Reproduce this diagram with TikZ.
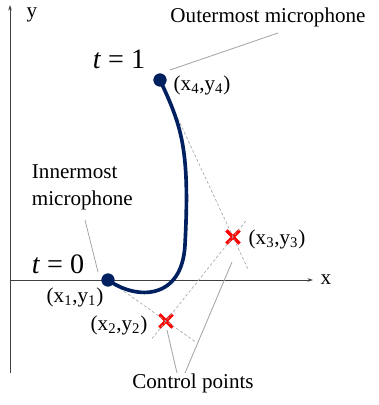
\documentclass[tikz,border=0pt]{standalone}
\usepackage{fontspec}
\setmainfont{Liberation Serif}
\usepackage{tikz}
\usetikzlibrary{calc,shapes.misc,arrows.meta}

\definecolor{navy}{RGB}{0,32,96}
\definecolor{leadgray}{RGB}{165,165,165}

\tikzset{
    mic/.style={draw=navy, circle, fill=navy, inner sep=0pt, minimum size=9pt},
    ctrl/.style={cross out, draw=red, line width=2.4pt, inner sep=0pt, minimum size=7pt},
    lead/.style={leadgray, line width=0.6pt},
    tangent/.style={leadgray, line width=0.45pt, dash pattern=on 2pt off 1.5pt},
    lbl/.style={font=\fontsize{15}{19}\selectfont},
    tlbl/.style={font=\fontsize{20}{23}\selectfont}
}

\begin{document}
\begin{tikzpicture}[scale=1.0]

    \useasboundingbox (-0.25,-3.125) rectangle (9.225,7.0);

    % Axes
    \coordinate (O) at (0, 0);
    \coordinate (Xend) at (7.575, 0);
    \coordinate (Ytop) at (0, 6.875);
    \coordinate (Ybot) at (0, -2.325);
    \draw[black!75, line width=0.5pt, -{Stealth[length=4pt, width=2.5pt]}] (O) -- (Xend);
    \draw[black!75, line width=0.5pt, -{Stealth[length=4pt, width=2.5pt]}] (Ybot) -- (Ytop);
    \node[lbl] (xlab) at (7.9, 0) {x};
    \node[lbl, inner sep=0pt] (ylab) at (0.55, 6.62) {y};

    % Control points (red crosses)
    \node[ctrl] (P2) at (3.9, -1.025) {};
    \node[lbl] at (2.725, -1.125) {(x\textsubscript{2},y\textsubscript{2})}; % left of cross

    \node[ctrl] (P3) at (5.575, 1.075) {};
    \node[lbl] at (6.675, 1.025) {(x\textsubscript{3},y\textsubscript{3})}; % right of cross

    % Microphone end points
    \coordinate (P1) at (2.45, 0);
    \coordinate (P4) at (3.75, 5.0);

    % Extended tangent lines (dashed)
    \coordinate (T12) at ($(P1)!1.5!(P2)$);
    \coordinate (T23a) at ($(P2)!-0.21!(P3)$);
    \coordinate (T23b) at ($(P2)!1.21!(P3)$);
    \coordinate (T43a) at ($(P4)!0.247!(P3)$);
    \coordinate (T43b) at ($(P4)!1.205!(P3)$);
    \draw[tangent] (P1) -- (T12);
    \draw[tangent] (T23a) -- (T23b);
    \draw[tangent] (T43a) -- (T43b);

    % Curve of the array (hook at the bottom, then nearly straight up)
    \coordinate (S) at (4.375, 0.875);
    \draw[navy, line width=2.6pt] (P1) .. controls (3.175, -0.5125) and (4.3, -0.5) .. (S)
        .. controls (4.5, 3.25) and (4.3, 3.825) .. (P4);

    \node[mic] (M1) at (P1) {};
    \node[lbl] at (1.625, -0.425) {(x\textsubscript{1},y\textsubscript{1})}; % below left
    \node[tlbl] (t0) at (1.2, 0.39) {\textit{t} = 0};

    \node[mic] (M4) at (P4) {};
    \node[lbl] at (4.8, 4.875) {(x\textsubscript{4},y\textsubscript{4})}; % right of dot
    \node[tlbl] (t1) at (2.725, 5.52) {\textit{t} = 1};

    % Callouts with leader lines
    \node[lbl] (outer) at (6.45, 6.575) {Outermost microphone};
    \coordinate (outerA) at (4.0, 5.25);
    \coordinate (outerB) at (6.7, 6.175);
    \draw[lead] (outerA) -- (outerB);

    \node[lbl, anchor=west, align=left] (inner) at (0.425, 2.325) {Innermost\\microphone};
    \coordinate (innerA) at (1.875, 1.5);
    \coordinate (innerB) at (2.2, 0.2);
    \draw[lead] (innerA) -- (innerB);

    \node[lbl] (ctrlp) at (4.575, -2.575) {Control points};
    \coordinate (c2a) at (4.175, -2.325);
    \coordinate (c2b) at (3.925, -1.25);
    \coordinate (c3a) at (4.375, -2.325);
    \coordinate (c3b) at (5.55, 0.45);
    \draw[lead] (c2a) -- (c2b);
    \draw[lead] (c3a) -- (c3b);

\end{tikzpicture}
\end{document}
